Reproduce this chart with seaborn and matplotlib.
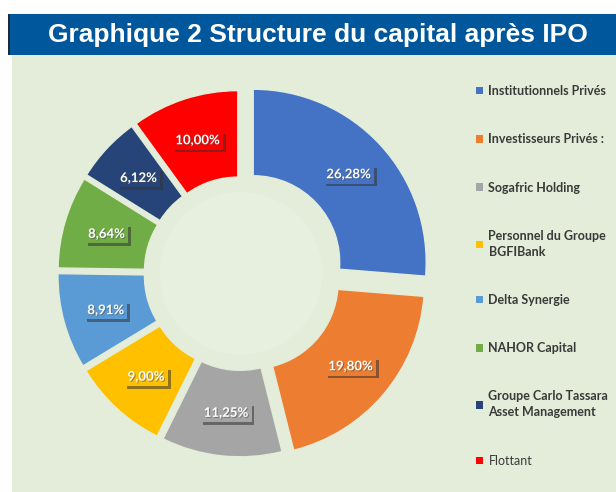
import matplotlib
matplotlib.use("Agg")
import matplotlib.pyplot as plt
import matplotlib.patheffects as pe
from matplotlib.patches import Rectangle, Circle
import seaborn as sns

# ---- data ----
categories = [
    "Institutionnels Privés",
    "Investisseurs Privés :",
    "Sogafric Holding",
    "Personnel du Groupe\nBGFIBank",
    "Delta Synergie",
    "NAHOR Capital",
    "Groupe Carlo Tassara\nAsset Management",
    "Flottant",
]
shares = [26.28, 19.80, 11.25, 9.00, 8.91, 8.64, 6.12, 10.00]
colors = ["#4472c4", "#ed7d31", "#a5a5a5", "#ffc000", "#5b9bd5", "#70ad47", "#264478", "#ff0000"]
explode = [0.096, 0.08, 0.06, 0.06, 0.06, 0.06, 0.06, 0.06]
title = "Graphique 2 Structure du capital après IPO"

sns.set_theme(style="white")
plt.rcParams["font.family"] = ["Lato", "DejaVu Sans"]

W, H = 616, 492
fig = plt.figure(figsize=(W / 100, H / 100), dpi=100)
fig.patch.set_facecolor("white")

bg = "#e3edd9"
# chart area
fig.patches.append(Rectangle((12 / W, 0), (W - 12) / W, (H - 50) / H,
                             transform=fig.transFigure, facecolor=bg, edgecolor="none", zorder=-3))
# title bar
fig.patches.append(Rectangle((8 / W, (H - 55) / H), (W - 8) / W, 41 / H,
                             transform=fig.transFigure, facecolor="#00579c", edgecolor="none", zorder=-2))
fig.patches.append(Rectangle((8 / W, (H - 55) / H), 2 / W, 41 / H,
                             transform=fig.transFigure, facecolor="#1c2a3a", edgecolor="none", zorder=-2))
fig.text(318 / W, (H - 35) / H, title, ha="center", va="center", color="white",
         fontsize=19, fontweight="bold", family=["Liberation Sans", "DejaVu Sans"], zorder=3)

# donut axes: center (241, 273.5) px, radius 173 px
cx, cy, R = 241, 273.5, 173
half = 200
ax = fig.add_axes([(cx - half) / W, (H - cy - half) / H, 2 * half / W, 2 * half / H])
ax.axis("off")
ax.patch.set_visible(False)

wedges, texts, autotexts = ax.pie(
    shares, colors=colors, explode=explode, startangle=90, counterclock=False,
    radius=1.0, pctdistance=0.75,
    autopct=lambda p: f"{p:.2f}".replace(".", ",") + "%",
    wedgeprops=dict(width=0.5, edgecolor=bg, linewidth=1.0),
)
# subtle lighter area inside the hole
ax.add_patch(Circle((0, 0), 0.47, facecolor="#e7f0df", edgecolor="none", zorder=0))

for t, c in zip(autotexts, colors):
    t.set_color("white")
    t.set_fontsize(9.5)
    t.set_fontweight("bold")
    t.set_bbox(dict(boxstyle="square,pad=0.25", facecolor=c, edgecolor="none"))
    t.get_bbox_patch().set_path_effects([
        pe.SimplePatchShadow(offset=(2, -2), shadow_rgbFace="#333333", alpha=0.55), pe.Normal()])
    t.set_path_effects([pe.withSimplePatchShadow(offset=(0.8, -0.8), alpha=0.5)])

ax.set_aspect("auto")
ax.set_xlim(-half / R, half / R)
ax.set_ylim(-half / R, half / R)

leg = fig.legend(wedges, categories, loc="upper left",
                 bbox_to_anchor=(476 / W, (H - 85) / H), frameon=False,
                 fontsize=9, labelspacing=2.9, handlelength=0.55, handleheight=0.55,
                 handletextpad=0.45, borderpad=0, borderaxespad=0)
for i, txt in enumerate(leg.get_texts()):
    txt.set_color("#3a3a3a")
    txt.set_linespacing(1.4)
    txt.set_fontweight("normal" if categories[i] == "Flottant" else "bold")
for h in leg.legend_handles:
    h.set_edgecolor("none")

fig.savefig("out.png", dpi=100, facecolor=fig.get_facecolor())
